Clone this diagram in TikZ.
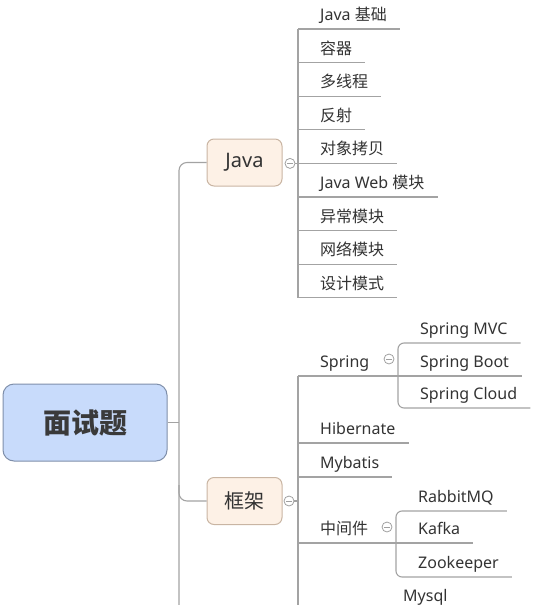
\documentclass[tikz,border=0pt]{standalone}
\usepackage{fontspec}
\setmainfont{Noto Sans}
\newfontfamily\cjk{Noto Sans CJK SC}
\usetikzlibrary{calc}
\definecolor{linec}{HTML}{A3A3A3}
\definecolor{textc}{HTML}{333333}
\definecolor{topicf}{HTML}{FDF1E6}
\definecolor{topicb}{HTML}{C9B5A3}
\definecolor{rootf}{HTML}{C8DBFB}
\definecolor{rootb}{HTML}{7F8FAA}
\definecolor{roott}{HTML}{3A3A3A}
\definecolor{foldc}{HTML}{A0A0A0}
\newcommand\mleaf[4]{%
  \node[leaf] (#1) at (#2,#3-8.5) {#4};
  \coordinate (#1l) at ($(#1.base west)+(-22,8.5)$);
  \coordinate (#1r) at ($(#1.base east)+(13,8.5)$);
}
\begin{document}
\begin{tikzpicture}[x=1pt,y=-1pt,
  line/.style={draw=linec, line width=1.1pt},
  leaf/.style={inner sep=0pt, anchor=base west, text=textc, font=\fontsize{16}{19}\selectfont},
  topic/.style={rounded corners=7pt, draw=topicb, fill=topicf, line width=1pt, minimum width=75pt, minimum height=47pt, text=textc, font=\fontsize{20}{24}\selectfont},
  rootbox/.style={rounded corners=11pt, draw=rootb, fill=rootf, line width=1pt, minimum width=164pt, minimum height=77pt, text=roott, font=\fontsize{28}{32}\selectfont\cjk\bfseries},
  fold/.style={circle, draw=foldc, fill=white, line width=0.8pt, minimum size=10pt, inner sep=0pt,
    path picture={\draw[foldc, line width=0.8pt] ($(path picture bounding box.center)+(-3,0)$) -- ($(path picture bounding box.center)+(3,0)$);}}
]
\useasboundingbox (0,0) rectangle (540,605);

% root and topics
\node[rootbox] (root) at (85,422.5) {面试题};
\node[topic] (java) at (244.5,162.5) {Java};
\node[topic] (kj) at (244.5,501) {{\cjk 框架}};

\coordinate (trunk) at (179,0);
\coordinate (trunkend) at (179,620);
\coordinate (kjup) at (179,485);
\draw[line, rounded corners=8pt] (java.west) -| (trunkend);
\draw[line] (root.east) -- (root.east -| trunk);
\draw[line, rounded corners=8pt] (kjup) |- (kj.west);

% Java children
\mleaf{j1}{320}{29}{Java {\cjk 基础}}
\mleaf{j2}{320}{62.6}{{\cjk 容器}}
\mleaf{j3}{320}{96.2}{{\cjk 多线程}}
\mleaf{j4}{320}{129.8}{{\cjk 反射}}
\mleaf{j5}{320}{163.4}{{\cjk 对象拷贝}}
\mleaf{j6}{320}{197}{Java Web {\cjk 模块}}
\mleaf{j7}{320}{230.6}{{\cjk 异常模块}}
\mleaf{j8}{320}{264.2}{{\cjk 网络模块}}
\mleaf{j9}{320}{297.8}{{\cjk 设计模式}}
\foreach \n in {j1,j2,j3,j4,j5,j6,j7,j8,j9}{\draw[line] (\n l) -- (\n r);}
\draw[line] (j1l) -- (j9l);
\node[fold] (fj) at (290,163.4) {};
\draw[line] (fj.east) -- (j5l);

% framework children
\mleaf{spring}{320}{376}{Spring}
\mleaf{hib}{320}{443}{Hibernate}
\mleaf{myb}{320}{477}{Mybatis}
\mleaf{mid}{320}{543}{{\cjk 中间件}}
\coordinate (kbottom) at (298,620);
\draw[line] (springl) -- (kbottom);
\draw[line] (hibl) -- (hibr);
\draw[line] (mybl) -- (mybr);
\node[fold] (fk) at (289,501) {};
\draw[line] (fk.east) -- (fk.east -| springl);

% Spring subtree
\mleaf{smvc}{420}{343}{Spring MVC}
\mleaf{sboot}{420}{376}{Spring Boot}
\mleaf{scloud}{420}{408}{Spring Cloud}
\draw[line] (springl) -- (sbootl);
\draw[line] (sbootl) -- (sbootr);
\draw[line, rounded corners=6pt] (smvcr) -| (sbootl) |- (scloudr);
\node[fold] (fs) at (389,359) {};

% middleware subtree
\mleaf{rabbit}{418}{511}{RabbitMQ}
\mleaf{kafka}{418}{543}{Kafka}
\mleaf{zoo}{418}{577}{Zookeeper}
\draw[line] (midl) -- (kafkal);
\draw[line] (kafkal) -- (kafkar);
\draw[line, rounded corners=6pt] (rabbitr) -| (kafkal) |- (zoor);
\node[fold] (fm) at (387,527) {};

\node[leaf] (mysql) at (403,601.5) {Mysql};
\end{tikzpicture}
\end{document}
